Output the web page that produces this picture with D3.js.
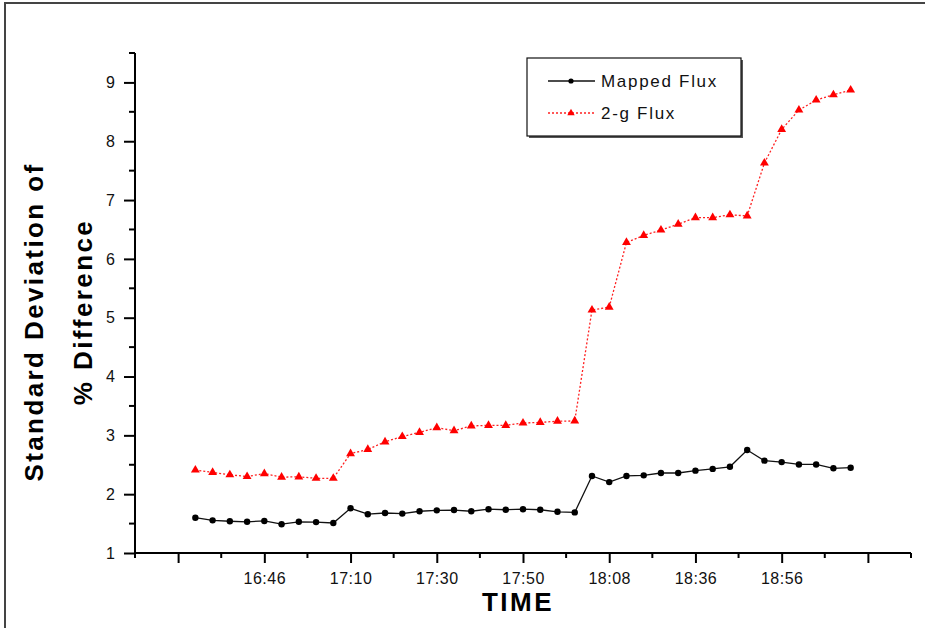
<!DOCTYPE html>
<html>
<head>
<meta charset="utf-8">
<script src="https://cdn.jsdelivr.net/npm/d3@7/dist/d3.min.js"></script>
<style>
  html, body { margin: 0; padding: 0; background: #fff; }
  svg { display: block; font-family: Arial, "Liberation Sans", sans-serif; }
</style>
</head>
<body>
<svg id="chart" width="925" height="628"></svg>
<script>
// Sample number (1..39) along the time axis
const sampleIndex = d3.range(1, 40);

// Standard deviation of % difference, per sample
const mappedFlux = [
  1.60, 1.555, 1.54, 1.53, 1.545, 1.49, 1.53, 1.525, 1.51,
  1.76, 1.66, 1.68, 1.67, 1.71, 1.725, 1.73, 1.71, 1.745, 1.735, 1.745, 1.735, 1.70, 1.69,
  2.31, 2.205, 2.31, 2.32, 2.36, 2.36, 2.40, 2.43, 2.465,
  2.75, 2.57, 2.545, 2.505, 2.505, 2.44, 2.45
];
const twoGFlux = [
  2.41, 2.37, 2.33, 2.30, 2.35, 2.29, 2.295, 2.27, 2.27,
  2.69, 2.76, 2.89, 2.98, 3.05, 3.13, 3.08, 3.16, 3.17, 3.17, 3.21, 3.22, 3.24, 3.245,
  5.13, 5.18, 6.28, 6.40, 6.49, 6.59, 6.70, 6.70, 6.75, 6.73,
  7.63, 8.20, 8.53, 8.70, 8.79, 8.87
];

// Labelled positions on the time axis
const timeTickValues = [0, 5, 10, 15, 20, 25, 30, 35, 40];
const timeTickLabels = ["", "16:46", "17:10", "17:30", "17:50", "18:08", "18:36", "18:56", ""];
const yTickValues = [1, 2, 3, 4, 5, 6, 7, 8, 9];

const legendNames = ["Mapped Flux", "2-g Flux"];

const svg = d3.select("#chart");

// Outer frame
svg.append("rect")
  .attr("x", 5).attr("y", 3)
  .attr("width", 1000).attr("height", 700)
  .attr("fill", "none")
  .attr("stroke", "#444").attr("stroke-width", 2);

const x = d3.scaleLinear().domain([-2.5, 42.5]).range([135, 911]);
const y = d3.scaleLinear().domain([1, 9.5]).range([553, 53]);

// X axis: major ticks every 5 samples, minor every 2.5
const gx = svg.append("g").attr("transform", "translate(0,553)");
gx.append("line").attr("x1", x(-2.5)).attr("x2", x(42.5))
  .attr("stroke", "#000").attr("stroke-width", 2);
const minorX = d3.range(-2.5, 43, 5);
gx.selectAll("line.minor").data(minorX).join("line")
  .attr("class", "minor")
  .attr("x1", d => x(d)).attr("x2", d => x(d))
  .attr("y1", 0).attr("y2", 5)
  .attr("stroke", "#000").attr("stroke-width", 2);
gx.call(d3.axisBottom(x)
    .tickValues(timeTickValues)
    .tickFormat((d, i) => timeTickLabels[i])
    .tickSize(10).tickPadding(10))
  .call(g => g.select(".domain").remove())
  .call(g => g.selectAll(".tick line").attr("stroke-width", 2))
  .call(g => g.selectAll(".tick text")
    .attr("font-size", 16).attr("fill", "#111")
    .attr("font-family", "Arial, 'Liberation Sans', sans-serif")
    .attr("letter-spacing", 0.5));

// Y axis: major ticks at integers, minor at halves
const gy = svg.append("g").attr("transform", "translate(135,0)");
gy.append("line").attr("y1", y(9.5)).attr("y2", y(1) + 5)
  .attr("stroke", "#000").attr("stroke-width", 2);
const minorY = d3.range(1.5, 9.6, 1);
gy.selectAll("line.minor").data(minorY).join("line")
  .attr("class", "minor")
  .attr("y1", d => y(d)).attr("y2", d => y(d))
  .attr("x1", -6).attr("x2", 0)
  .attr("stroke", "#000").attr("stroke-width", 2);
gy.call(d3.axisLeft(y)
    .tickValues(yTickValues)
    .tickFormat(d3.format("d"))
    .tickSize(11).tickPadding(9))
  .call(g => g.select(".domain").remove())
  .call(g => g.selectAll(".tick line").attr("stroke-width", 2))
  .call(g => g.selectAll(".tick text")
    .attr("font-size", 16).attr("fill", "#111")
    .attr("font-family", "Arial, 'Liberation Sans', sans-serif"));

// Axis titles
svg.append("text")
  .attr("x", 518).attr("y", 611)
  .attr("text-anchor", "middle")
  .attr("font-size", 26).attr("font-weight", "bold")
  .attr("letter-spacing", 2.5)
  .text("TIME");

const yTitle = svg.append("g");
yTitle.append("text")
  .attr("transform", "translate(43,322) rotate(-90)")
  .attr("text-anchor", "middle")
  .attr("font-size", 26).attr("font-weight", "bold")
  .attr("letter-spacing", 2.4)
  .text("Standard Deviation of");
yTitle.append("text")
  .attr("transform", "translate(92,312) rotate(-90)")
  .attr("text-anchor", "middle")
  .attr("font-size", 26).attr("font-weight", "bold")
  .attr("letter-spacing", 2.4)
  .text("% Difference");

// Series
const mappedData = sampleIndex.map((s, i) => [s, mappedFlux[i]]);
const twoGData = sampleIndex.map((s, i) => [s, twoGFlux[i]]);
const line = d3.line().x(d => x(d[0])).y(d => y(d[1]));
const tri = d3.symbol().type(d3.symbolTriangle).size(34);

svg.append("path").datum(twoGData)
  .attr("d", line).attr("fill", "none")
  .attr("stroke", "#ff2020").attr("stroke-width", 1.3)
  .attr("stroke-dasharray", "2,2");
svg.append("g").selectAll("path").data(twoGData).join("path")
  .attr("d", tri)
  .attr("transform", d => `translate(${x(d[0])},${y(d[1])})`)
  .attr("fill", "#ff0000");

svg.append("path").datum(mappedData)
  .attr("d", line).attr("fill", "none")
  .attr("stroke", "#111").attr("stroke-width", 1.3);
svg.append("g").selectAll("circle").data(mappedData).join("circle")
  .attr("cx", d => x(d[0])).attr("cy", d => y(d[1]))
  .attr("r", 3.2).attr("fill", "#000");

// Legend
const lg = svg.append("g");
lg.append("rect").attr("x", 529).attr("y", 60).attr("width", 214).attr("height", 78)
  .attr("fill", "#555");
lg.append("rect").attr("x", 527).attr("y", 58).attr("width", 214).attr("height", 78)
  .attr("fill", "#fff").attr("stroke", "#111").attr("stroke-width", 1.2);
const rows = [81, 113];
lg.append("line").attr("x1", 548).attr("x2", 595).attr("y1", rows[0]).attr("y2", rows[0])
  .attr("stroke", "#111").attr("stroke-width", 1.3);
lg.append("circle").attr("cx", 571).attr("cy", rows[0]).attr("r", 2.6).attr("fill", "#000");
lg.append("line").attr("x1", 548).attr("x2", 595).attr("y1", rows[1]).attr("y2", rows[1])
  .attr("stroke", "#ff2020").attr("stroke-width", 1.3).attr("stroke-dasharray", "2,2");
lg.append("path").attr("d", d3.symbol().type(d3.symbolTriangle).size(24))
  .attr("transform", `translate(571,${rows[1]})`).attr("fill", "#ff0000");
lg.selectAll("text").data(legendNames).join("text")
  .attr("x", 601).attr("y", (d, i) => rows[i] + 6)
  .attr("font-size", 17).attr("letter-spacing", 1.7).attr("fill", "#111")
  .text(d => d);
</script>
</body>
</html>
